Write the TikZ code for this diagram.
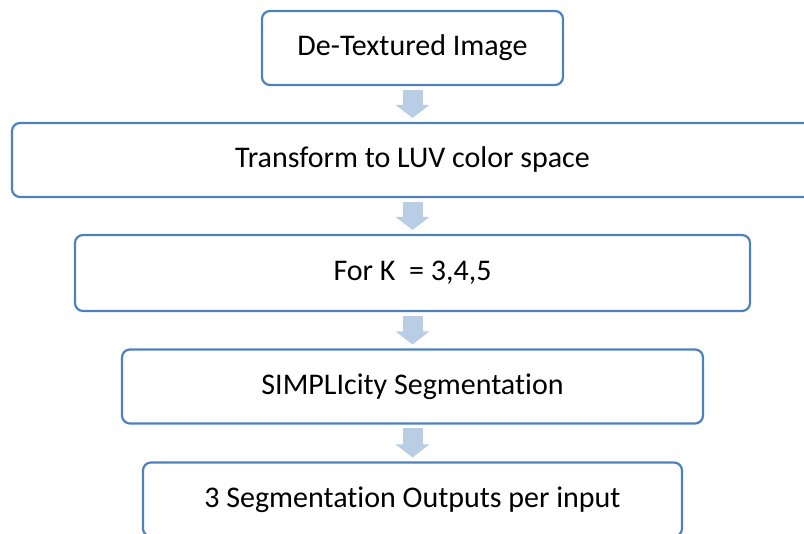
\documentclass[tikz,border=0pt]{standalone}
\usepackage{fontspec}
\setmainfont{Carlito}[Ligatures=NoCommon]
\usetikzlibrary{arrows.meta}
\definecolor{boxline}{RGB}{79,129,189}
\definecolor{arrowfill}{RGB}{185,205,229}

\begin{document}
\begin{tikzpicture}[x=1pt, y=-1pt,
	stepbox/.style={rectangle, rounded corners=8pt, draw=boxline, line width=2.2pt, outer sep=0pt, inner sep=0pt, minimum height=74pt, font=\fontsize{30}{36}\selectfont},
	flow/.style={draw=arrowfill, line width=20pt, -{Triangle[width=33pt, length=13pt]}, shorten <=5pt, shorten >=5pt}]
			\clip (0,0) rectangle (804,534);
			\node[stepbox, minimum width=301pt] (img) at (412.5,48){De-Textured Image};
			\node[stepbox, minimum width=801pt] (luv) at (412.5,160){Transform to LUV color space};
			\node[stepbox, minimum width=675pt, minimum height=76pt] (loop) at (412.5,273){For K\ \ = 3,4,5};
			\node[stepbox, minimum width=581pt] (seg) at (412.5,386.5){SIMPLIcity Segmentation};
			\node[stepbox, minimum width=539pt] (out) at (412.5,499.5){3 Segmentation Outputs per input};
			
			\path[flow] (img) -- (luv);
			\path[flow] (luv) -- (loop);
			\path[flow] (loop) -- (seg);
			\path[flow] (seg) -- (out);
			\end{tikzpicture}
\end{document}
